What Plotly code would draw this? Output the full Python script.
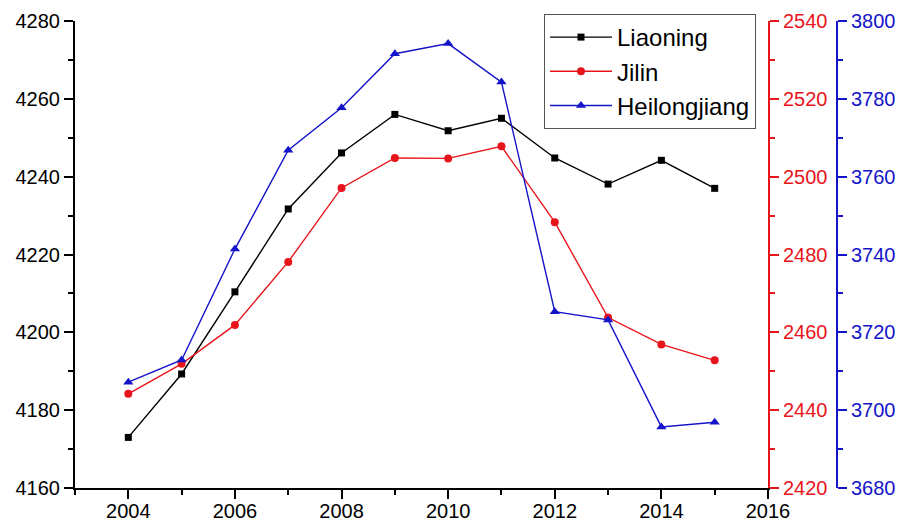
import plotly.graph_objects as go

years = [2004, 2005, 2006, 2007, 2008, 2009, 2010, 2011, 2012, 2013, 2014, 2015]
liaoning = [4173.0, 4189.3, 4210.4, 4231.7, 4246.1, 4256.0, 4251.8, 4255.0, 4244.8, 4238.1, 4244.2, 4237.0]
jilin = [2444.2, 2451.9, 2461.9, 2478.1, 2497.1, 2504.8, 2504.7, 2507.8, 2488.3, 2463.8, 2456.9, 2452.8]
heilongjiang = [3707.2, 3712.9, 3741.4, 3766.8, 3777.7, 3791.6, 3794.2, 3784.3, 3725.3, 3723.2, 3695.7, 3696.9]

BLACK = "#000000"
RED = "#e8141b"
BLUE = "#1414c8"
FONT = "Liberation Sans, Arial, sans-serif"

# the page body has an 8px margin, so the figure is drawn 8px in from the window corner
OFF = 8
W, H = 903 - OFF, 523 - OFF
ML, MR, MT, MB = 75 - OFF, 0, 21 - OFF, 35
PW = W - ML - MR
PH = H - MT - MB
x_end = (768 - OFF - ML) / PW
blue_pos = (837 - OFF - ML) / PW

fig = go.Figure()
fig.add_trace(go.Scatter(x=years, y=liaoning, name="Liaoning", mode="lines+markers",
                         line=dict(color=BLACK, width=1.4),
                         marker=dict(symbol="square", size=7, color=BLACK),
                         yaxis="y"))
fig.add_trace(go.Scatter(x=years, y=jilin, name="Jilin", mode="lines+markers",
                         line=dict(color=RED, width=1.4),
                         marker=dict(symbol="circle", size=8, color=RED),
                         yaxis="y2"))
fig.add_trace(go.Scatter(x=years, y=heilongjiang, name="Heilongjiang", mode="lines+markers",
                         line=dict(color=BLUE, width=1.4),
                         marker=dict(symbol="triangle-up", size=9, color=BLUE),
                         yaxis="y3"))

def yax(color, rng, **kw):
    d = dict(range=rng, dtick=20, tick0=rng[0], showgrid=False, zeroline=False,
             showline=True, linecolor=color, linewidth=2,
             ticks="outside", ticklen=9, tickwidth=2, tickcolor=color,
             tickfont=dict(family=FONT, size=20, color=color),
             minor=dict(dtick=10, ticks="outside", ticklen=5, tickwidth=2, tickcolor=color),
             automargin=False)
    d.update(kw)
    return d

fig.update_layout(
    width=W, height=H,
    margin=dict(l=ML, r=MR, t=MT, b=MB, autoexpand=False),
    paper_bgcolor="white", plot_bgcolor="white",
    font=dict(family=FONT, size=20, color=BLACK),
    showlegend=True,
    legend=dict(x=(544 - OFF - ML) / PW, y=1 + (MT - (14 - OFF)) / PH,
                xanchor="left", yanchor="top",
                bgcolor="white", bordercolor="#555555", borderwidth=1,
                font=dict(family=FONT, size=24, color=BLACK),
                tracegroupgap=0, itemwidth=62),
    xaxis=dict(domain=[0, x_end], range=[2003, 2016], dtick=2, tick0=2004,
               showgrid=False, zeroline=False, showline=True, linecolor=BLACK, linewidth=2,
               ticks="outside", ticklen=9, tickwidth=2, tickcolor=BLACK,
               tickfont=dict(family=FONT, size=20, color=BLACK),
               ticklabelstandoff=-5,
               minor=dict(dtick=1, tick0=2003, ticks="outside", ticklen=5, tickwidth=2, tickcolor=BLACK),
               automargin=False),
    yaxis=yax(BLACK, [4160, 4280]),
    yaxis2=yax(RED, [2420, 2540], overlaying="y", side="right", anchor="x"),
    yaxis3=yax(BLUE, [3680, 3800], overlaying="y", side="right", anchor="free", position=blue_pos),
)

fig.write_html("out.html")
